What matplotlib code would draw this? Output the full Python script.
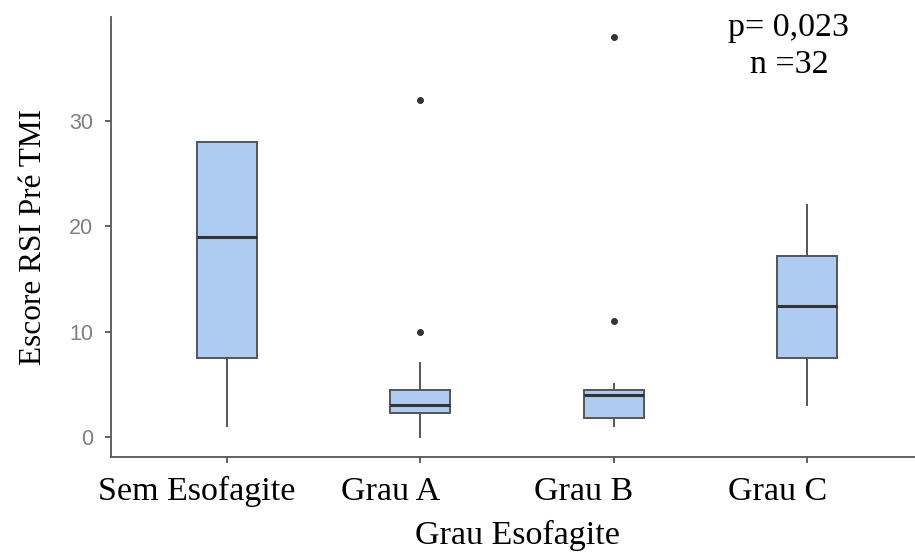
import matplotlib.pyplot as plt
from matplotlib.transforms import ScaledTranslation

# resumo dos boxplots por grau de esofagite
grupos = ["Sem Esofagite", "Grau A", "Grau B", "Grau C"]
q1 = [7.5, 2.3, 1.8, 7.5]
mediana = [19, 3, 4, 12.4]
q3 = [28, 4.4, 4.4, 17.2]
whislo = [1, 0, 1, 3]
whishi = [28, 7, 5, 22]
outliers = [[], [32, 10], [38, 11], []]

stats = []
for i, g in enumerate(grupos):
    stats.append(dict(label=g, q1=q1[i], med=mediana[i], q3=q3[i],
                      whislo=whislo[i], whishi=whishi[i], fliers=outliers[i]))

fig = plt.figure(figsize=(9.15, 5.53), dpi=100)
ax = fig.add_axes([0.1213, 0.1741, 1.009 - 0.1213, 0.795])

cor_linha = "#555555"
ax.bxp(stats, positions=range(1, 5), widths=0.31, patch_artist=True,
       showcaps=False,
       boxprops=dict(facecolor="#aecbf1", edgecolor=cor_linha, linewidth=1.4),
       medianprops=dict(color="#333333", linewidth=2.2),
       whiskerprops=dict(color=cor_linha, linewidth=1.4),
       flierprops=dict(marker="o", markersize=4, markerfacecolor="#333333",
                       markeredgecolor="#333333"))

ax.set_xlim(0.4, 4.6)
ax.set_ylim(-1.9, 39.9)
ax.set_yticks([0, 10, 20, 30])

for s in ["top", "right"]:
    ax.spines[s].set_visible(False)
for s in ["left", "bottom"]:
    ax.spines[s].set_color(cor_linha)
    ax.spines[s].set_linewidth(1.3)

ax.tick_params(axis="y", colors=cor_linha, length=4, width=1.3, labelsize=15.5,
               labelcolor="#808080", pad=9)
ax.tick_params(axis="x", colors=cor_linha, length=4, width=1.3, pad=10,
               labelcolor="black")
for lb in ax.get_yticklabels():
    lb.set_family("Liberation Sans")

# rótulos das categorias um pouco deslocados para a esquerda
desloc = ScaledTranslation(-0.3, 0, fig.dpi_scale_trans)
for lb in ax.get_xticklabels():
    lb.set_family("Liberation Serif")
    lb.set_fontsize(24.5)
    lb.set_transform(lb.get_transform() + desloc)

ax.set_xlabel("Grau Esofagite", family="Liberation Serif", fontsize=24.5, labelpad=9)
ax.set_ylabel("Escore RSI Pré TMI", family="Liberation Serif", fontsize=22.5, labelpad=15)

fig.text(789 / 915, 1 - 28 / 553, "p= 0,023", family="Liberation Serif",
         fontsize=24.5, ha="center", va="center")
fig.text(789 / 915, 1 - 65 / 553, "n =32", family="Liberation Serif",
         fontsize=24.5, ha="center", va="center")

fig.savefig("out.png", dpi=100)
